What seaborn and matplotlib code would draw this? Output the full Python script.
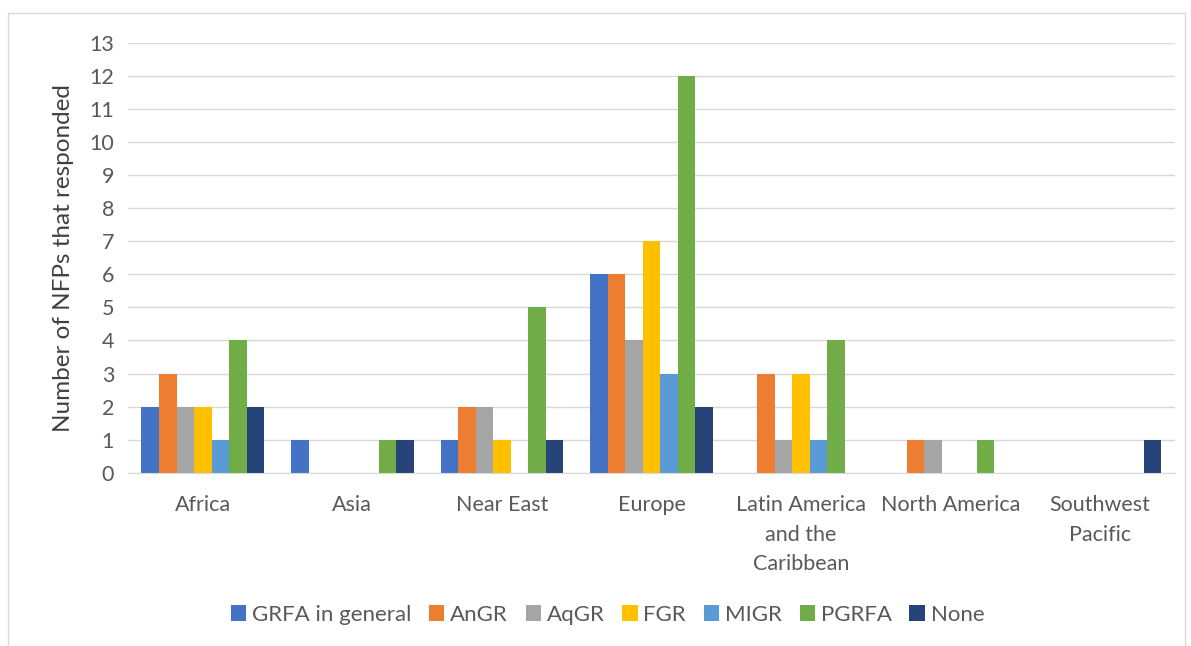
import pandas as pd
import numpy as np
import matplotlib.pyplot as plt
import seaborn as sns
from matplotlib.patches import Rectangle

# =========================
# Data
# =========================
regions = ['Africa', 'Asia', 'Near East', 'Europe',
           'Latin America\nand the\nCaribbean', 'North America', 'Southwest\nPacific']
series = ['GRFA in general', 'AnGR', 'AqGR', 'FGR', 'MIGR', 'PGRFA', 'None']

grfa_general = [2, 1, 1, 6, 0, 0, 0]
angr = [3, 0, 2, 6, 3, 1, 0]
aqgr = [2, 0, 2, 4, 1, 1, 0]
fgr = [2, 0, 1, 7, 3, 0, 0]
migr = [1, 0, 0, 3, 1, 0, 0]
pgrfa = [4, 1, 5, 12, 4, 1, 0]
none_ = [2, 1, 1, 2, 0, 0, 1]

colors = ['#4472C4', '#ED7D31', '#A5A5A5', '#FFC000', '#5B9BD5', '#70AD47', '#264478']

values = [grfa_general, angr, aqgr, fgr, migr, pgrfa, none_]
rows = []
for s, vals in zip(series, values):
    for r, v in zip(regions, vals):
        rows.append({'region': r, 'series': s, 'count': v})
df = pd.DataFrame(rows)

# =========================
# Plot
# =========================
sns.set_style('white')
plt.rcParams['font.family'] = ['Lato', 'DejaVu Sans']

fig = plt.figure(figsize=(11.91, 6.46), dpi=100)
ax = fig.add_axes([0.1075, 0.268, 0.879, 0.666])

sns.barplot(data=df, x='region', y='count', hue='series',
            order=regions, hue_order=series, palette=colors, saturation=1,
            width=0.82, gap=0, linewidth=0, ax=ax, legend=True)

ax.set_ylim(0, 13)
ax.set_yticks(range(0, 14))
ax.yaxis.grid(True, color='#d9d9d9', linewidth=1)
ax.set_axisbelow(True)
for side in ['top', 'right', 'left']:
    ax.spines[side].set_visible(False)
ax.spines['bottom'].set_color('#d9d9d9')
ax.tick_params(axis='y', length=0, labelsize=15.5, colors='#595959', pad=10)
ax.tick_params(axis='x', length=0, labelsize=15.5, colors='#595959', pad=16)
ax.set_xlabel('')
ax.set_ylabel('Number of NFPs that responded', fontsize=17.5, color='#404040', labelpad=11)
for lab in ax.get_xticklabels():
    lab.set_linespacing(1.6)
    lab.set_verticalalignment('top')

handles, labels = ax.get_legend_handles_labels()
ax.legend(handles, labels, loc='center', bbox_to_anchor=(0.51, 0.048),
          bbox_transform=fig.transFigure, ncol=7, frameon=False,
          fontsize=16, handlelength=0.7, handleheight=0.7,
          handletextpad=0.25, columnspacing=0.8, labelcolor='#595959')

# figure border
fig.patches.append(Rectangle((8 / 1191, -0.01), 1177 / 1191, 1 - 13 / 646 + 0.01,
                             transform=fig.transFigure, fill=False,
                             edgecolor='#d9d9d9', linewidth=1))

fig.savefig('out.png', dpi=100)
plt.close()
